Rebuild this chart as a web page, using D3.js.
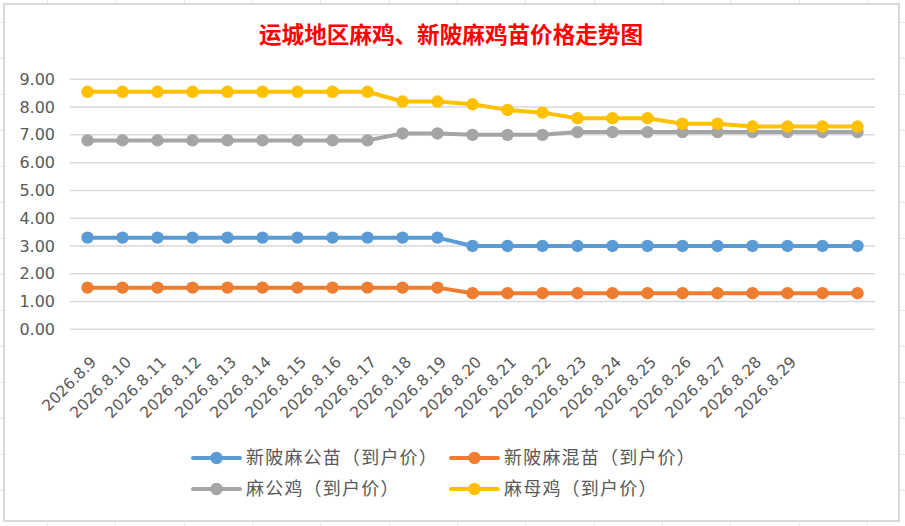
<!DOCTYPE html>
<html><head><meta charset="utf-8">
<script src="https://cdn.jsdelivr.net/npm/d3@7/dist/d3.min.js"></script>
<style>body{margin:0;background:#fff;overflow:hidden} svg{display:block}</style>
</head><body>
<svg id="c" width="905" height="526"></svg>
<script>
const title = "运城地区麻鸡、新陂麻鸡苗价格走势图";
const dateLabels = ["2026.8.9","2026.8.10","2026.8.11","2026.8.12","2026.8.13","2026.8.14","2026.8.15",
  "2026.8.16","2026.8.17","2026.8.18","2026.8.19","2026.8.20","2026.8.21","2026.8.22","2026.8.23",
  "2026.8.24","2026.8.25","2026.8.26","2026.8.27","2026.8.28","2026.8.29","",""];
const seriesNames = ["新陂麻公苗（到户价）","新陂麻混苗（到户价）","麻公鸡（到户价）","麻母鸡（到户价）"];
const seriesColors = ["#5B9BD5","#ED7D31","#A5A5A5","#FFC000"];
const maleChick  = [3.3,3.3,3.3,3.3,3.3,3.3,3.3,3.3,3.3,3.3,3.3,3.0,3.0,3.0,3.0,3.0,3.0,3.0,3.0,3.0,3.0,3.0,3.0];
const mixedChick = [1.5,1.5,1.5,1.5,1.5,1.5,1.5,1.5,1.5,1.5,1.5,1.3,1.3,1.3,1.3,1.3,1.3,1.3,1.3,1.3,1.3,1.3,1.3];
const rooster    = [6.8,6.8,6.8,6.8,6.8,6.8,6.8,6.8,6.8,7.05,7.05,7.0,7.0,7.0,7.1,7.1,7.1,7.1,7.1,7.1,7.1,7.1,7.1];
const hen        = [8.55,8.55,8.55,8.55,8.55,8.55,8.55,8.55,8.55,8.2,8.2,8.1,7.9,7.8,7.6,7.6,7.6,7.4,7.4,7.3,7.3,7.3,7.3];
const yTicks = [0,1,2,3,4,5,6,7,8,9];

const seriesValues = [maleChick, mixedChick, rooster, hen];
const svg = d3.select("#c");
const W = 905, H = 526;

// spreadsheet backdrop
const sheet = svg.append("g");
sheet.selectAll("line.h").data(d3.range(-14, 526, 36)).join("line")
  .attr("x1",0).attr("x2",W).attr("y1",d=>d+0.5).attr("y2",d=>d+0.5)
  .attr("stroke","#e6e6e6").attr("stroke-width",1);
sheet.selectAll("line.v").data(d3.range(47, 905, 68.33)).join("line")
  .attr("y1",0).attr("y2",H).attr("x1",d=>Math.round(d)+0.5).attr("x2",d=>Math.round(d)+0.5)
  .attr("stroke","#e6e6e6").attr("stroke-width",1);

// chart area
svg.append("rect").attr("x",4).attr("y",4).attr("width",895).attr("height",517)
  .attr("fill","#fff").attr("stroke","#d9d9d9").attr("stroke-width",2);

const plot = {left:70, right:875, top:79.3, bottom:329.3};
const x = d3.scaleBand().domain(d3.range(dateLabels.length)).range([plot.left, plot.right]);
const y = d3.scaleLinear().domain([0,9]).range([plot.bottom, plot.top]);
const cx = i => x(i) + x.bandwidth()/2;

svg.append("text").attr("x",451).attr("y",43).attr("text-anchor","middle")
  .attr("font-family","'Noto Sans CJK SC'").attr("font-weight","bold")
  .attr("font-size",22.6).attr("fill","#FF0000").text(title);

// gridlines
svg.append("g").selectAll("line").data(yTicks).join("line")
  .attr("x1",plot.left).attr("x2",plot.right)
  .attr("y1",d=>y(d)).attr("y2",d=>y(d))
  .attr("stroke","#d9d9d9").attr("stroke-width",1.5);

// y axis via d3 axis
const yAxis = svg.append("g").attr("transform",`translate(${plot.left},0)`)
  .call(d3.axisLeft(y).tickValues(yTicks).tickFormat(d3.format(".2f")).tickSize(0).tickPadding(15));
yAxis.select(".domain").remove();
yAxis.selectAll("text").attr("font-family","'DejaVu Sans'").attr("font-size",16).attr("fill","#595959");

// x labels
const xAxis = svg.append("g").attr("transform",`translate(0,${plot.bottom})`)
  .call(d3.axisBottom(x).tickFormat(i=>dateLabels[i]).tickSize(0));
xAxis.select(".domain").remove();
xAxis.selectAll("text")
  .attr("font-family","'DejaVu Sans'").attr("font-size",15.5).attr("fill","#595959")
  .attr("text-anchor","end").attr("dy","0.35em")
  .attr("transform","translate(6,30) rotate(-45)").attr("x",0).attr("y",0);

// series
const line = d3.line().x((d,i)=>cx(i)).y(d=>y(d));
seriesValues.forEach((vals, s) => {
  const g = svg.append("g");
  g.append("path").datum(vals).attr("d",line).attr("fill","none")
    .attr("stroke",seriesColors[s]).attr("stroke-width",4).attr("stroke-linejoin","round");
  g.selectAll("circle").data(vals).join("circle")
    .attr("cx",(d,i)=>cx(i)).attr("cy",d=>y(d)).attr("r",6.2).attr("fill",seriesColors[s]);
});

// legend
const legendPos = [[193,458],[451,458],[193,489],[451,489]];
seriesNames.forEach((name, s) => {
  const [lx, ly] = legendPos[s];
  const g = svg.append("g").attr("transform",`translate(${lx},${ly})`);
  g.append("line").attr("x1",0).attr("x2",47).attr("y1",0).attr("y2",0)
    .attr("stroke",seriesColors[s]).attr("stroke-width",4).attr("stroke-linecap","round");
  g.append("circle").attr("cx",23.5).attr("cy",0).attr("r",6.2).attr("fill",seriesColors[s]);
  g.append("text").attr("x",53).attr("y",0).attr("dy","0.36em")
    .attr("font-family","'Noto Sans CJK SC'").attr("font-size",18).attr("letter-spacing",1.2)
    .attr("fill","#595959").text(name);
});
</script>
</body></html>
